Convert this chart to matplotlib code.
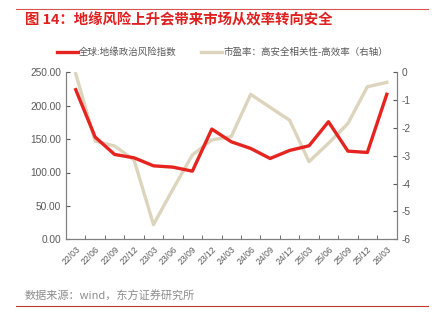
import matplotlib.pyplot as plt
from matplotlib.lines import Line2D

plt.rcParams['font.family'] = ['Noto Sans CJK SC', 'DejaVu Sans']

dates = ['22/03', '22/06', '22/09', '22/12', '23/03', '23/06', '23/09', '23/12',
         '24/03', '24/06', '24/09', '24/12', '25/03', '25/06', '25/09', '25/12', '26/03']
risk_index = [224, 153, 127, 122, 110, 108, 102, 165, 146, 136, 121, 133, 140, 176, 132, 130, 217]
pe_corr = [-0.05, -2.47, -2.65, -3.15, -5.47, -4.2, -2.97, -2.43, -2.31, -0.79, -1.26,
           -1.72, -3.21, -2.55, -1.84, -0.52, -0.36]

red = '#e5231f'
beige = '#ddd4bd'
grey = '#595959'
num_font = ['Liberation Sans', 'DejaVu Sans']

fig = plt.figure(figsize=(4.32, 3.21), dpi=100)
ax = fig.add_axes([66 / 432, 1 - 239.3 / 321, 330.5 / 432, 167 / 321])
ax2 = ax.twinx()

x = list(range(len(dates)))
ax.plot(x, risk_index, color=red, lw=2.4, zorder=3)
ax2.plot(x, pe_corr, color=beige, lw=2.4, zorder=2)
ax.set_zorder(ax2.get_zorder() + 1)
ax.patch.set_visible(False)

ax.set_xlim(-0.5, len(dates) - 0.5)
ax.set_ylim(0, 250)
ax2.set_ylim(-6, 0)
ax.set_yticks(range(0, 251, 50))
ax.set_yticklabels([f'{v:.2f}' for v in range(0, 251, 50)], fontfamily=num_font)
ax2.set_yticks(range(-6, 1))
ax2.set_yticklabels([str(v) for v in range(-6, 1)], fontfamily=num_font)

ax.set_xticks(x)
ax.set_xticklabels(dates, rotation=45, ha='right', rotation_mode='anchor', fontsize=6.2,
                   color=grey, fontfamily=num_font)
ax.set_xticks([i + 0.5 for i in x[:-1]], minor=True)
ax.tick_params(axis='x', which='major', length=0, pad=4)
ax.tick_params(axis='x', which='minor', length=3, direction='in', color=grey)
ax.tick_params(axis='y', length=3, direction='in', labelsize=7.3, colors=grey)
ax2.tick_params(axis='y', length=3, direction='in', labelsize=7.3, colors=grey)

for a in (ax, ax2):
    a.spines['top'].set_visible(False)
    for s in ('left', 'right', 'bottom'):
        a.spines[s].set_color('#7f7f7f')
        a.spines[s].set_linewidth(0.8)

handles = [Line2D([], [], color=red, lw=2.4), Line2D([], [], color=beige, lw=2.4)]
labels = ['全球:地缘政治风险指数', '市盈率：高安全相关性-高效率（右轴）']
fig.legend(handles, labels, loc='center', bbox_to_anchor=(0.515, 1 - 52 / 321), ncol=2,
           frameon=False, fontsize=6.8, handlelength=2.2, handletextpad=0.15, columnspacing=2.6,
           labelcolor=grey)

fig.text(25 / 432, 1 - 20 / 321, '图 14：地缘风险上升会带来市场从效率转向安全', color='#e02020',
         fontsize=10.4, fontweight='bold', va='center', ha='left')
fig.text(25 / 432, 1 - 296 / 321, '数据来源：wind，东方证券研究所', color='#8c8c8c',
         fontsize=8, va='center', ha='left')
fig.add_artist(Line2D([16 / 432, 428 / 432], [1 - 9 / 321] * 2, color='#d9534f', lw=0.8))
fig.add_artist(Line2D([16 / 432, 428 / 432], [1 - 306 / 321] * 2, color='#c0392b', lw=0.8))

fig.savefig('out.png', dpi=100)
